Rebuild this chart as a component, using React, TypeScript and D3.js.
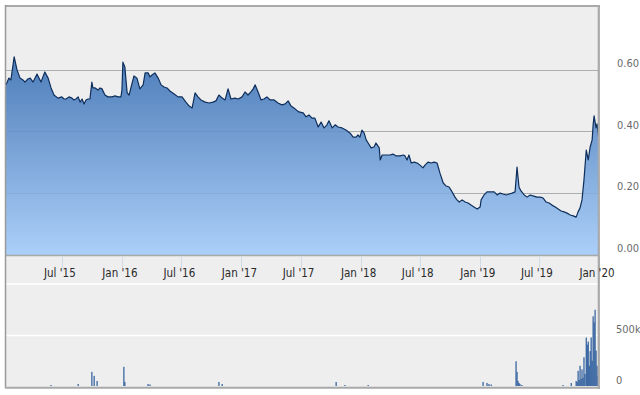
import { useEffect, useRef } from "react"
import * as d3 from "d3"

// Share price
const priceDates = [
  "2015-01-11", "2015-01-20", "2015-01-26", "2015-02-05", "2015-02-14", "2015-02-23", "2015-03-04", "2015-03-10",
  "2015-03-19", "2015-03-26", "2015-04-04", "2015-04-10", "2015-04-16", "2015-04-22", "2015-04-28", "2015-05-04",
  "2015-05-10", "2015-05-20", "2015-05-29", "2015-06-07", "2015-06-19", "2015-07-01", "2015-07-08", "2015-07-14",
  "2015-07-23", "2015-08-01", "2015-08-07", "2015-08-13", "2015-08-20", "2015-08-26", "2015-09-01", "2015-09-07",
  "2015-09-13", "2015-09-19", "2015-09-25", "2015-10-01", "2015-10-04", "2015-10-11", "2015-10-20", "2015-10-26",
  "2015-11-01", "2015-11-10", "2015-11-19", "2015-12-02", "2015-12-11", "2015-12-20", "2015-12-29", "2016-01-01",
  "2016-01-04", "2016-01-10", "2016-01-17", "2016-01-23", "2016-01-29", "2016-02-07", "2016-02-16", "2016-02-25",
  "2016-03-06", "2016-03-12", "2016-03-21", "2016-03-27", "2016-04-02", "2016-04-11", "2016-04-21", "2016-04-30",
  "2016-05-09", "2016-05-18", "2016-05-27", "2016-06-09", "2016-06-21", "2016-07-03", "2016-07-15", "2016-07-25",
  "2016-08-03", "2016-08-12", "2016-08-21", "2016-08-30", "2016-09-12", "2016-09-24", "2016-10-06", "2016-10-15",
  "2016-10-24", "2016-11-03", "2016-11-12", "2016-11-21", "2016-11-30", "2016-12-12", "2016-12-22", "2017-01-03",
  "2017-01-12", "2017-01-21", "2017-01-30", "2017-02-06", "2017-02-12", "2017-02-21", "2017-03-02", "2017-03-11",
  "2017-03-20", "2017-03-30", "2017-04-11", "2017-04-23", "2017-05-05", "2017-05-15", "2017-05-24", "2017-06-02",
  "2017-06-14", "2017-06-26", "2017-07-09", "2017-07-18", "2017-07-27", "2017-08-05", "2017-08-14", "2017-08-24",
  "2017-09-02", "2017-09-11", "2017-09-20", "2017-09-26", "2017-10-06", "2017-10-15", "2017-10-24", "2017-11-05",
  "2017-11-17", "2017-11-30", "2017-12-09", "2017-12-18", "2017-12-24", "2017-12-30", "2018-01-05", "2018-01-12",
  "2018-01-18", "2018-01-24", "2018-02-02", "2018-02-11", "2018-02-17", "2018-02-27", "2018-03-02", "2018-03-08",
  "2018-03-20", "2018-04-01", "2018-04-10", "2018-04-20", "2018-05-02", "2018-05-11", "2018-05-17", "2018-05-23",
  "2018-05-29", "2018-06-05", "2018-06-14", "2018-06-23", "2018-07-02", "2018-07-11", "2018-07-17", "2018-07-27",
  "2018-08-05", "2018-08-14", "2018-08-23", "2018-09-01", "2018-09-11", "2018-09-20", "2018-09-29", "2018-10-08",
  "2018-10-17", "2018-10-23", "2018-10-30", "2018-11-08", "2018-11-17", "2018-11-26", "2018-12-05", "2018-12-14",
  "2018-12-24", "2019-01-02", "2019-01-05", "2019-01-14", "2019-01-23", "2019-02-01", "2019-02-14", "2019-02-23",
  "2019-03-04", "2019-03-13", "2019-03-23", "2019-04-01", "2019-04-10", "2019-04-19", "2019-04-25", "2019-05-01",
  "2019-05-07", "2019-05-17", "2019-05-26", "2019-06-04", "2019-06-13", "2019-06-25", "2019-07-05", "2019-07-14",
  "2019-07-23", "2019-08-01", "2019-08-10", "2019-08-20", "2019-08-29", "2019-09-07", "2019-09-16", "2019-09-25",
  "2019-10-05", "2019-10-14", "2019-10-23", "2019-10-29", "2019-11-04", "2019-11-10", "2019-11-16", "2019-11-23",
  "2019-11-29", "2019-12-05", "2019-12-11", "2019-12-14", "2019-12-17", "2019-12-23", "2019-12-26", "2020-01-01",
]
const priceValues = [
  0.550, 0.572, 0.566, 0.641, 0.598, 0.572, 0.566, 0.559,
  0.569, 0.572, 0.559, 0.572, 0.585, 0.572, 0.559, 0.576,
  0.592, 0.572, 0.540, 0.517, 0.507, 0.511, 0.504, 0.504,
  0.511, 0.507, 0.501, 0.504, 0.511, 0.494, 0.504, 0.488,
  0.501, 0.504, 0.504, 0.559, 0.540, 0.540, 0.533, 0.540,
  0.537, 0.517, 0.511, 0.511, 0.514, 0.511, 0.511, 0.533,
  0.624, 0.608, 0.524, 0.517, 0.543, 0.579, 0.572, 0.537,
  0.550, 0.589, 0.589, 0.576, 0.582, 0.589, 0.572, 0.550,
  0.543, 0.540, 0.530, 0.520, 0.511, 0.511, 0.494, 0.481,
  0.475, 0.524, 0.511, 0.501, 0.494, 0.491, 0.494, 0.498,
  0.517, 0.507, 0.501, 0.537, 0.504, 0.507, 0.504, 0.511,
  0.527, 0.517, 0.527, 0.537, 0.550, 0.527, 0.501, 0.504,
  0.511, 0.501, 0.501, 0.491, 0.485, 0.488, 0.498, 0.481,
  0.472, 0.462, 0.459, 0.446, 0.452, 0.442, 0.442, 0.413,
  0.429, 0.410, 0.420, 0.433, 0.410, 0.420, 0.413, 0.410,
  0.403, 0.393, 0.380, 0.380, 0.387, 0.380, 0.403, 0.393,
  0.371, 0.361, 0.345, 0.348, 0.361, 0.345, 0.306, 0.322,
  0.322, 0.322, 0.325, 0.319, 0.319, 0.322, 0.319, 0.306,
  0.322, 0.296, 0.299, 0.296, 0.289, 0.280, 0.289, 0.299,
  0.296, 0.299, 0.296, 0.263, 0.231, 0.221, 0.218, 0.202,
  0.185, 0.176, 0.169, 0.176, 0.169, 0.166, 0.159, 0.153,
  0.146, 0.153, 0.176, 0.192, 0.202, 0.202, 0.202, 0.192,
  0.198, 0.195, 0.192, 0.195, 0.198, 0.202, 0.283, 0.218,
  0.205, 0.192, 0.185, 0.192, 0.189, 0.185, 0.185, 0.182,
  0.169, 0.166, 0.159, 0.153, 0.146, 0.140, 0.137, 0.133,
  0.127, 0.124, 0.120, 0.137, 0.150, 0.176, 0.241, 0.338,
  0.306, 0.348, 0.371, 0.420, 0.449, 0.410, 0.423, 0.371,
]

// Volume
const volumeDates = [
  "2015-05-29", "2015-08-20", "2015-10-01", "2015-10-08", "2015-10-17", "2016-01-07", "2016-01-10", "2016-03-21",
  "2016-03-27", "2016-10-24", "2016-11-03", "2017-10-18", "2017-11-14", "2018-01-24", "2019-01-11", "2019-01-23",
  "2019-01-29", "2019-02-05", "2019-04-22", "2019-04-25", "2019-04-28", "2019-05-01", "2019-05-04", "2019-05-10",
  "2019-09-13", "2019-10-08", "2019-10-23", "2019-10-26", "2019-10-29", "2019-11-01", "2019-11-04", "2019-11-07",
  "2019-11-10", "2019-11-13", "2019-11-16", "2019-11-19", "2019-11-23", "2019-11-26", "2019-11-29", "2019-12-02",
  "2019-12-05", "2019-12-08", "2019-12-11", "2019-12-14", "2019-12-17", "2019-12-20", "2019-12-23", "2019-12-26",
  "2019-12-29",
]
const volumeValues = [
  10000, 20000, 140000, 100000, 50000, 190000, 40000, 20000,
  15000, 40000, 20000, 40000, 10000, 10000, 40000, 30000,
  20000, 15000, 245000, 140000, 50000, 30000, 20000, 10000,
  10000, 30000, 50000, 40000, 150000, 60000, 200000, 70000,
  165000, 80000, 285000, 120000, 480000, 410000, 440000, 200000,
  345000, 480000, 250000, 690000, 630000, 755000, 350000, 200000,
  100000,
]

const xTickDates = ["2015-07-01", "2016-01-01", "2016-07-01", "2017-01-01", "2017-07-01", "2018-01-01", "2018-07-01", "2019-01-01", "2019-07-01", "2020-01-01"]
const xTickLabels = ["Jul '15", "Jan '16", "Jul '16", "Jan '17", "Jul '17", "Jan '18", "Jul '18", "Jan '19", "Jul '19", "Jan '20"]
const priceTicks = [0, 0.2, 0.4, 0.6]
const priceTickLabels = ["0.00", "0.20", "0.40", "0.60"]
const volumeTicks = [0, 500000]
const volumeTickLabels = ["0", "500k"]

export default function App() {
  const svgRef = useRef<SVGSVGElement>(null)

  useEffect(() => {
    if (!svgRef.current) return
    const svg = d3.select(svgRef.current)
    svg.selectAll("*").remove()

    const parse = d3.timeParse("%Y-%m-%d")
    const prices = priceDates.map((d, i) => ({ date: parse(d) as Date, value: priceValues[i] }))
    const volumes = volumeDates.map((d, i) => ({ date: parse(d) as Date, value: volumeValues[i] }))

    const left = 6
    const right = 598
    const priceTop = 7
    const priceBottom = 255
    const bandBottom = 284
    const volBottom = 387
    const font = "'Liberation Sans Narrow', 'DejaVu Sans Condensed', Arial, sans-serif"

    const x = d3.scaleTime().domain([parse("2015-01-11") as Date, parse("2020-01-01") as Date]).range([left, 599])
    const y = d3.scaleLinear().domain([0, 0.8]).range([254, 8])
    const yVol = d3.scaleLinear().domain([0, 1000000]).range([386, 285])

    const defs = svg.append("defs")
    const grad = defs
      .append("linearGradient")
      .attr("id", "areaGrad")
      .attr("gradientUnits", "userSpaceOnUse")
      .attr("x1", 0).attr("x2", 0)
      .attr("y1", priceTop).attr("y2", priceBottom)
    grad.append("stop").attr("offset", "0%").attr("stop-color", "#3668a9")
    grad.append("stop").attr("offset", "100%").attr("stop-color", "#abcff8")
    defs.append("clipPath").attr("id", "priceClip")
      .append("rect").attr("x", left).attr("y", priceTop).attr("width", right - left).attr("height", priceBottom - priceTop)

    // backgrounds
    svg.append("rect").attr("width", 640).attr("height", 395).attr("fill", "#ffffff")
    svg.append("rect").attr("x", left).attr("y", priceTop).attr("width", right - left).attr("height", volBottom - priceTop).attr("fill", "#eeeeee")

    const gridY = priceTicks.slice(1).map((d) => Math.round(y(d)) + 0.5)

    // price gridlines on the grey
    svg.selectAll(".pgrid")
      .data(gridY)
      .join("line")
      .attr("x1", left).attr("x2", right)
      .attr("y1", (d) => d).attr("y2", (d) => d)
      .attr("stroke", "#b8b8b8")
      .attr("stroke-width", 1)

    const g = svg.append("g").attr("clip-path", "url(#priceClip)")
    const area = d3.area<{ date: Date; value: number }>()
      .x((d) => x(d.date))
      .y0(priceBottom)
      .y1((d) => y(d.value))
    const line = d3.line<{ date: Date; value: number }>()
      .x((d) => x(d.date))
      .y((d) => y(d.value))
    g.append("path").datum(prices).attr("d", area).attr("fill", "url(#areaGrad)")

    // faint gridline showing through the area
    svg.selectAll(".pgrid2")
      .data(gridY)
      .join("line")
      .attr("x1", left).attr("x2", right)
      .attr("y1", (d) => d).attr("y2", (d) => d)
      .attr("stroke", "#1a3a66")
      .attr("stroke-opacity", 0.08)
      .attr("stroke-width", 1)

    g.append("path").datum(prices).attr("d", line).attr("fill", "none").attr("stroke", "#0e2f5c").attr("stroke-width", 1.2).attr("stroke-linejoin", "round")

    // separator between price pane and label band
    svg.append("line").attr("x1", left).attr("x2", right).attr("y1", 255.5).attr("y2", 255.5).attr("stroke", "#a8a8a8").attr("stroke-width", 1.5)

    // tick marks in the label band
    svg.selectAll(".xtick")
      .data(xTickDates)
      .join("line")
      .attr("x1", (d) => Math.round(x(parse(d) as Date)) + 0.5)
      .attr("x2", (d) => Math.round(x(parse(d) as Date)) + 0.5)
      .attr("y1", 256).attr("y2", 268)
      .attr("stroke", "#d4dae3")

    // white separator and volume gridline
    svg.append("line").attr("x1", left).attr("x2", right).attr("y1", bandBottom).attr("y2", bandBottom).attr("stroke", "#ffffff").attr("stroke-width", 1.5)
    svg.selectAll(".vgrid")
      .data(volumeTicks.slice(1))
      .join("line")
      .attr("x1", left).attr("x2", right)
      .attr("y1", (d) => yVol(d)).attr("y2", (d) => yVol(d))
      .attr("stroke", "#ffffff").attr("stroke-width", 1.5)

    // volume bars
    svg.selectAll(".vol")
      .data(volumes)
      .join("rect")
      .attr("x", (d) => x(d.date) - 0.6)
      .attr("y", (d) => yVol(d.value))
      .attr("width", 1.2)
      .attr("height", (d) => yVol(0) - yVol(d.value))
      .attr("fill", "#2c5c9c")

    // borders
    svg.append("line").attr("x1", 5).attr("x2", 600).attr("y1", 6).attr("y2", 6).attr("stroke", "#a9a9a9").attr("stroke-width", 2)
    svg.append("line").attr("x1", 5.5).attr("x2", 5.5).attr("y1", 5).attr("y2", 388).attr("stroke", "#9a9a9a").attr("stroke-width", 1.5)
    svg.append("line").attr("x1", 598.8).attr("x2", 598.8).attr("y1", 5).attr("y2", 389).attr("stroke", "#a9a9a9").attr("stroke-width", 2.2)
    svg.append("line").attr("x1", 5).attr("x2", 600).attr("y1", 387.8).attr("y2", 387.8).attr("stroke", "#a9a9a9").attr("stroke-width", 2)

    // x labels
    svg.selectAll(".xlab")
      .data(xTickDates)
      .join("text")
      .attr("x", (d) => x(parse(d) as Date) - 2)
      .attr("y", 277)
      .attr("text-anchor", "middle")
      .style("font-family", font)
      .style("font-size", "11.5px")
      .style("fill", "#2a2a2a")
      .text((d, i) => xTickLabels[i])

    // price labels
    svg.selectAll(".ylab")
      .data(priceTicks)
      .join("text")
      .attr("x", 617)
      .attr("y", (d) => y(d) - 2.5)
      .style("font-family", font)
      .style("font-size", "11px")
      .style("fill", "#6b6b6b")
      .text((d, i) => priceTickLabels[i])

    // volume labels
    svg.selectAll(".vlab")
      .data(volumeTicks)
      .join("text")
      .attr("x", 616)
      .attr("y", (d) => yVol(d) - 2.5)
      .style("font-family", font)
      .style("font-size", "11px")
      .style("fill", "#6b6b6b")
      .text((d, i) => volumeTickLabels[i])
  }, [])

  return (
    <svg
      ref={svgRef}
      width={640}
      height={395}
      style={{ position: "absolute", left: 0, top: 0, display: "block" }}
    ></svg>
  )
}
